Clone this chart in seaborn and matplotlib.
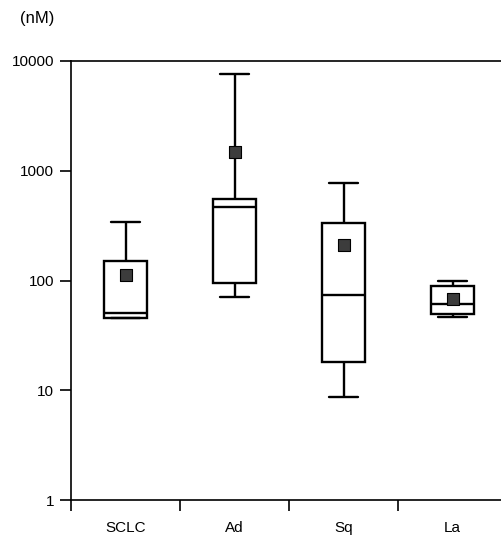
import numpy as np
import pandas as pd
import matplotlib
matplotlib.use("Agg")
import matplotlib.pyplot as plt
from matplotlib.ticker import FixedLocator, NullLocator, FuncFormatter
import seaborn as sns

categories = ["SCLC", "Ad", "Sq", "La"]
whisker_low = [45.5, 70.7, 8.7, 46.5]
q1 = [45.5, 95.0, 18.1, 49.5]
median = [50.6, 468.0, 73.8, 61.0]
q3 = [150.0, 553.0, 334.0, 89.0]
whisker_high = [341.0, 7600.0, 773.0, 99.0]
mean = [112.0, 1482.0, 210.0, 68.0]
yticks = [1, 10, 100, 1000, 10000]

# five-number summaries -> 5 values each (quartiles fall exactly on these points)
rows = []
for i, c in enumerate(categories):
    for v in (whisker_low[i], q1[i], median[i], q3[i], whisker_high[i]):
        rows.append({"group": c, "conc": v})
df = pd.DataFrame(rows)
df_mean = pd.DataFrame({"group": categories, "conc": mean})

sns.set_style("white")
plt.rcParams["font.family"] = ["Liberation Sans", "DejaVu Sans"]
plt.rcParams["text.color"] = "black"
plt.rcParams["xtick.color"] = "black"
plt.rcParams["ytick.color"] = "black"
plt.rcParams["axes.labelcolor"] = "black"

fig = plt.figure(figsize=(5.01, 5.38), dpi=100)
ax = fig.add_axes([71 / 501, 38 / 538, 436 / 501, 439 / 538])

sns.boxplot(data=df, x="group", y="conc", order=categories, whis=(0, 100),
            width=0.4, color="white", linecolor="black", linewidth=1.7,
            log_scale=True, showfliers=False, capwidths=0.27, ax=ax)
sns.stripplot(data=df_mean, x="group", y="conc", order=categories, jitter=False,
              marker="s", size=9, color="#3c3c3c", edgecolor="black",
              linewidth=0.8, ax=ax, zorder=5)

ax.set_ylim(1, 10000)
ax.set_xlim(-0.5, 3.5)
ax.yaxis.set_major_locator(FixedLocator(yticks))
ax.yaxis.set_minor_locator(NullLocator())
ax.yaxis.set_major_formatter(FuncFormatter(lambda v, p: f"{int(round(v))}"))
ax.tick_params(axis="y", which="major", direction="out", length=8, width=1.2,
               pad=4, labelsize=11, left=True, colors="black")

ax.set_xticks(range(len(categories)))
ax.set_xticklabels(categories)
ax.set_xticks([-0.5, 0.5, 1.5, 2.5], minor=True)
ax.tick_params(axis="x", which="major", length=0, pad=15, labelsize=11,
               colors="black")
ax.tick_params(axis="x", which="minor", direction="out", length=8, width=1.2,
               bottom=True, colors="black")
ax.set_xlabel("")
ax.set_ylabel("")

for s in ("left", "bottom", "top"):
    ax.spines[s].set_visible(True)
    ax.spines[s].set_color("black")
    ax.spines[s].set_linewidth(1.2)
ax.spines["right"].set_visible(False)

fig.text(20 / 501, 1 - 18 / 538, "(nM)", fontsize=12, va="center", ha="left",
         color="black")

fig.savefig("out.png", dpi=100)
